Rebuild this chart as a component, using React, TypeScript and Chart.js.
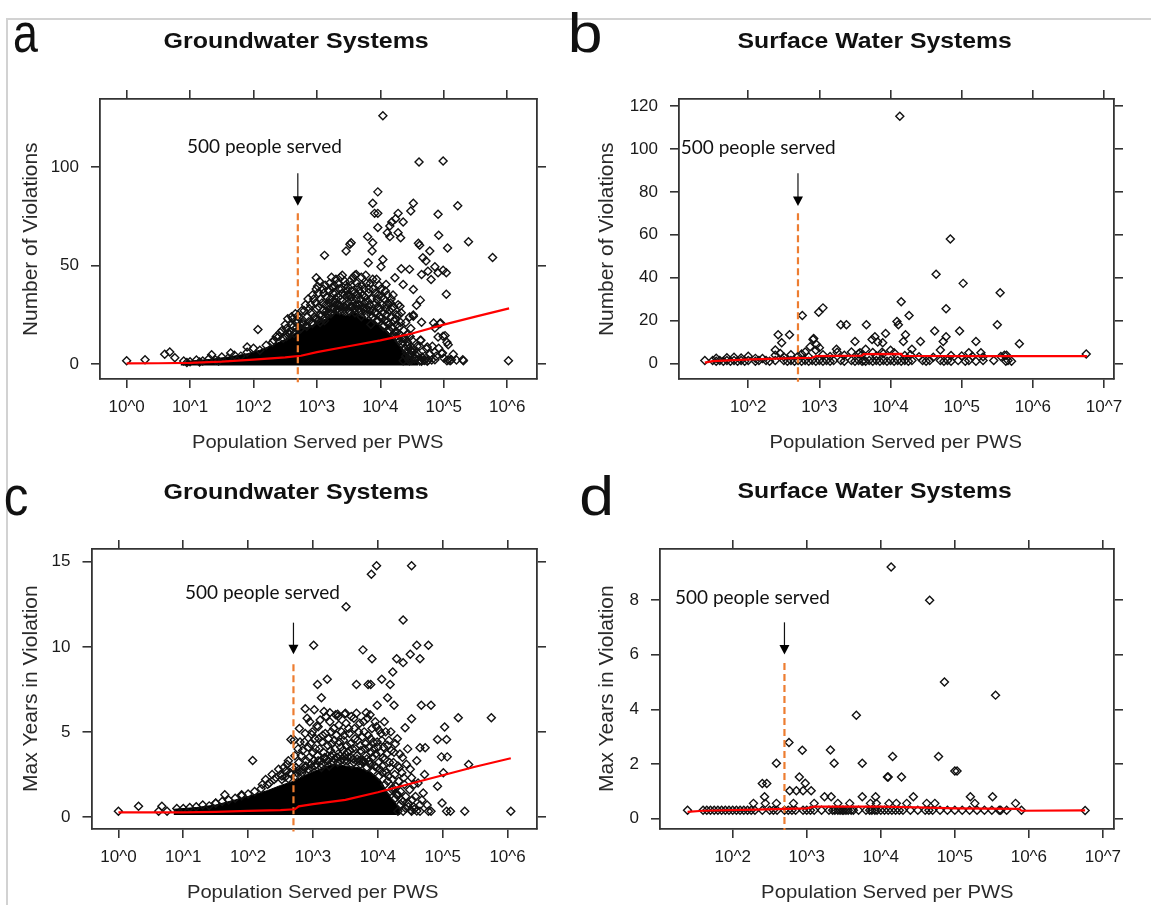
import React, { useEffect, useRef } from 'react';
import { Chart, registerables } from 'chart.js';

Chart.register(...registerables);

type Pt = [number, number];

// x values are log10(population served per PWS)
const THRESHOLD_POP = 500;

const gwXTicks = [0, 1, 2, 3, 4, 5, 6];
const gwXLabels = ['10^0', '10^1', '10^2', '10^3', '10^4', '10^5', '10^6'];
const swXTicks = [2, 3, 4, 5, 6, 7];
const swXLabels = ['10^2', '10^3', '10^4', '10^5', '10^6', '10^7'];

const gwViolYTicks = [0, 50, 100];
const swViolYTicks = [0, 20, 40, 60, 80, 100, 120];
const gwYearsYTicks = [0, 5, 10, 15];
const swYearsYTicks = [0, 2, 4, 6, 8];

// ---------- a: groundwater, number of violations ----------
const gwViolOutliers: Pt[] = [
  [4.04, 125.9], [4.61, 102.5], [4.99, 103], [3.96, 87.3], [3.88, 81.5], [4.52, 81.5], [5.22, 80.3],
  [3.91, 76.4], [3.96, 76.4], [4.28, 76.4], [4.48, 77.6], [4.91, 75.9], [4.24, 73.7], [4.18, 72],
  [4.15, 70], [4.36, 72], [3.96, 69.2], [4.11, 66.6], [4.28, 66.6], [4.15, 64.6], [4.32, 64],
  [3.8, 64.6], [4.92, 65.3], [5.39, 62], [3.54, 61.5], [3.52, 60.7], [3.46, 57.3], [3.12, 55.1],
  [3.88, 61.5], [4.6, 61.2], [4.62, 60.2], [4.78, 57.3], [5.06, 58.8], [3.87, 57.3], [4.67, 53.9],
  [4.72, 52.2], [5.77, 54], [3.81, 51.4], [4.04, 53], [4.01, 49.3], [4.86, 49.3], [4.46, 48],
  [4.33, 48.3], [4.99, 47.6], [5.04, 46.3], [4.75, 47.1], [4.65, 45.4], [4.23, 43.7], [4.36, 40.3],
  [4.09, 40.3], [4.52, 37.8], [4.91, 46.3], [4.8, 42.9], [2.99, 43.7], [3.01, 39.5], [5.04, 35.4],
  [4.17, 33], [4.31, 29.3], [4.52, 24.2], [4.46, 23.9], [4.65, 21.2], [4.95, 20.8], [4.86, 18.3],
  [4.91, 13.7], [5.02, 14.4], [5.07, 9.8], [4.74, 8.6], [4.64, 12], [4.98, 5.6], [5.3, 2.2],
  [5.07, 2.2], [5.12, 2.2], [4.86, 2.2], [4.65, 1.4], [4.74, 1.4], [4.46, 1.7], [4.36, 1.7],
  [2.07, 17.5], [1.9, 8.6], [1.64, 5.6], [1.34, 4.7], [0.6, 4.9], [0.68, 6.1], [0.76, 3.2],
  [0.29, 2.2], [0, 1.6], [2.54, 22.9], [2.69, 24.2], [6.02, 1.7], [5.31, 1.7], [5.05, 1.7],
  [5.1, 1.7], [4.99, 14.1], [4.94, 20.5], [4.84, 20.8], [4.86, 6.1], [4.97, 5.3], [4.73, 7.8],
  [4.68, 2], [4.63, 2], [4.76, 2], [4.81, 2], [4.63, 12], [4.49, 6.9], [4.49, 1.9], [4.63, 32.4],
  [4.57, 29.8], [4.52, 24.8], [4.4, 4], [4.45, 2], [4.5, 6], [4.55, 3], [4.6, 5], [4.62, 9], [4.7, 4],
  [4.78, 5], [4.82, 9], [4.88, 4], [4.92, 8], [5.0, 3], [5.05, 11], [5.15, 5], [5.2, 2],
];
const gwViolCluster: Pt[] = [
  [2.4, 14], [2.45, 17], [2.5, 20], [2.55, 16], [2.6, 24], [2.6, 20], [2.62, 23], [2.66, 25.5],
  [2.7, 22], [2.75, 18], [2.8, 27], [2.85, 24], [2.9, 30], [2.92, 21], [2.95, 33], [3.0, 28],
  [3.02, 36], [3.05, 25], [3.08, 31], [3.1, 38], [3.12, 22], [3.15, 34], [3.18, 29], [3.2, 41],
  [3.22, 26], [3.25, 36], [3.28, 31], [3.3, 43], [3.32, 28], [3.35, 38], [3.38, 33], [3.4, 45],
  [3.42, 29], [3.45, 40], [3.48, 35], [3.5, 31], [3.52, 42], [3.55, 37], [3.58, 28], [3.6, 45],
  [3.62, 33], [3.65, 39], [3.68, 30], [3.7, 44], [3.72, 35], [3.75, 27], [3.78, 41], [3.8, 32],
  [3.82, 38], [3.85, 25], [3.88, 43], [3.9, 30], [3.92, 36], [3.95, 22], [3.98, 40], [4.0, 28],
  [4.02, 34], [4.05, 19], [4.08, 37], [4.1, 25], [4.12, 31], [4.15, 17], [4.18, 28], [4.2, 35],
  [4.22, 22], [4.25, 14], [4.28, 30], [4.3, 19], [4.33, 26], [4.36, 11], [4.4, 21], [4.42, 15],
  [4.45, 8], [4.48, 18], [4.5, 12], [4.55, 5], [4.58, 9], [3.25, 38.6], [3.62, 45.4], [3.4, 36],
  [3.55, 34], [3.35, 30], [3.45, 27], [3.15, 27], [3.05, 21], [3.7, 24], [3.85, 20], [3.0, 23],
  [2.9, 26], [3.95, 33], [4.1, 30], [4.25, 25], [3.6, 26], [3.75, 31], [3.3, 33], [3.2, 31],
  [3.5, 27], [0.9, 1.5], [1.0, 1.2], [1.1, 2.0], [1.2, 1.5], [1.3, 2.8], [1.4, 2.0], [1.5, 3.5],
  [1.6, 3.0], [1.7, 4.5], [1.8, 4.0], [1.9, 6.0], [2.0, 8.0], [2.1, 7.0], [2.2, 9.5], [2.3, 11.0],
  [1.45, 1.5], [1.15, 1.0], [0.95, 0.8],
  [2.76, 27], [2.78, 21], [2.82, 30], [2.84, 19], [2.86, 33], [2.88, 28], [2.93, 35], [2.96, 24],
  [2.98, 31], [2.99, 38], [3.03, 29], [3.04, 42], [3.06, 33], [3.09, 27], [3.11, 36], [3.13, 40],
  [3.14, 30], [3.17, 25], [3.19, 37], [3.21, 33], [3.23, 44], [3.24, 28], [3.26, 32], [3.27, 40],
  [3.29, 36], [3.31, 30], [3.33, 41], [3.34, 34], [3.36, 27], [3.37, 44], [3.39, 38], [3.41, 32],
  [3.43, 35], [3.44, 42], [3.46, 30], [3.47, 37], [3.49, 39], [3.51, 35], [3.53, 29], [3.54, 40],
  [3.56, 32], [3.57, 44], [3.59, 36], [3.61, 30], [3.63, 41], [3.64, 35], [3.66, 28], [3.67, 37],
  [3.69, 33], [3.71, 40], [3.73, 29], [3.74, 38], [3.76, 34], [3.77, 45], [3.79, 28], [3.81, 36],
  [3.83, 30], [3.84, 41], [3.86, 33], [3.87, 27], [3.89, 38], [3.91, 26], [3.93, 31], [3.94, 43],
  [3.96, 29], [3.97, 35], [3.99, 24], [4.01, 38], [4.03, 30], [4.04, 26], [4.06, 33], [4.07, 22],
  [4.09, 28], [4.11, 35], [4.13, 20], [4.14, 27], [4.16, 31], [4.17, 24], [4.19, 18], [4.21, 29],
  [4.23, 16], [4.24, 23], [4.26, 20], [4.27, 13], [4.29, 25], [4.31, 15], [4.32, 21], [4.34, 10],
  [4.37, 17], [4.39, 13], [4.41, 6], [4.43, 11], [4.46, 3.5], [4.47, 14], [4.51, 8], [4.53, 3],
  [2.32, 12], [2.36, 14], [2.42, 16], [2.47, 13], [2.52, 18], [2.57, 15], [2.63, 19], [2.67, 21],
  [2.72, 24], [2.74, 20],
  [2.52, 14], [2.58, 16.5], [2.64, 15.5], [2.68, 18.5], [2.73, 17.5], [2.78, 20], [2.83, 19.5],
  [2.87, 21.5], [2.93, 20.5], [2.97, 23], [3.03, 22.5], [3.07, 24.5], [3.12, 23.5], [3.17, 26],
  [3.22, 25.5], [3.27, 28], [3.32, 27.5], [3.36, 29], [3.41, 27], [3.46, 28.5], [3.51, 26.5],
  [3.55, 29], [3.6, 28], [3.65, 30], [3.69, 26.5], [3.74, 28], [3.78, 25], [3.83, 27], [3.88, 24],
  [3.92, 26], [3.97, 22], [4.02, 23.5], [4.06, 19.5], [4.1, 21], [4.14, 17], [4.18, 18.5],
  [4.22, 14.5], [4.26, 16], [4.3, 11.5], [4.34, 13], [4.38, 8], [4.42, 9.5], [4.46, 5], [4.5, 6.5],
  [4.54, 2.5], [4.58, 4], [4.62, 1.5], [4.66, 3.5], [4.7, 1.8],
];
const gwViolCoreTop: Pt[] = [
  [0.85, 0.5], [1.0, 1.5], [1.3, 2.3], [1.6, 3.5], [1.9, 5.2], [2.1, 7], [2.3, 9.5], [2.5, 12.5],
  [2.65, 15.5], [2.75, 18], [2.9, 19], [3.0, 21], [3.15, 23], [3.3, 26], [3.45, 24.5], [3.6, 26],
  [3.75, 23.5], [3.9, 22], [4.0, 19.5], [4.1, 17], [4.2, 13.5], [4.3, 9.5], [4.4, 6], [4.5, 2.5],
  [4.6, 0.3],
];
const gwViolLoess: Pt[] = [
  [0, 0.3], [0.5, 0.4], [1, 0.6], [1.5, 1.2], [2, 2.2], [2.5, 3.4], [2.75, 4.2], [3, 6], [3.5, 9],
  [4, 12], [4.5, 15.5], [5, 20], [5.5, 24], [6.03, 28.2],
];

// ---------- b: surface water, number of violations ----------
const swViolOutliers: Pt[] = [
  [4.13, 115.2], [4.84, 58.1], [4.64, 41.6], [5.02, 37.4], [5.54, 33], [4.15, 28.8], [4.78, 25.6],
  [2.76, 22.5], [2.99, 24], [3.05, 26], [4.26, 22.5], [3.3, 18.1], [3.38, 18.1], [3.66, 18.1],
  [4.09, 19.7], [4.11, 18.1], [5.5, 18.1], [2.42, 13.5], [2.58, 13.5], [4.62, 15.2], [4.97, 15.2],
  [4.21, 13.5], [4.78, 12.6], [3.78, 12.6], [3.93, 14.1], [5.81, 9.3], [3.5, 10.4], [4.42, 10.4],
  [5.2, 10.4], [4.74, 10.4], [4.18, 10.4], [2.91, 11.3], [2.92, 11.8], [3.82, 10.1], [3.74, 11.3],
  [3.89, 9.8], [3.57, 5.1], [3.88, 5.4], [4.3, 6.7], [5.27, 5.1], [5.1, 5.1], [4.7, 6.4],
  [2.47, 9.8], [2.38, 6.4], [2.96, 9], [2.87, 7.9], [3.24, 6.7], [5.63, 3.9], [6.75, 4.5], [3.59, 3.9],
  [1.55, 2.6], [1.7, 2.8], [1.8, 3.0], [1.9, 2.7], [2.0, 3.5], [2.1, 2.5], [2.2, 2.4], [2.38, 3.9],
  [2.45, 4.8], [2.5, 3.1], [2.6, 4.2], [2.7, 3.5], [2.75, 4.5], [2.8, 5.5], [2.85, 3.2], [2.95, 6.3],
  [3.0, 7.5], [3.05, 4.2], [3.15, 3.4], [3.25, 5.3], [3.35, 4.0], [3.45, 5.5], [3.55, 4.6],
  [3.65, 6.8], [3.75, 5.2], [3.8, 3.6], [3.9, 4.8], [4.0, 6.3], [4.05, 5.1], [4.2, 3.8], [4.28, 4.2],
  [4.4, 3.3], [4.6, 3.0], [4.85, 3.8], [5.0, 3.6], [5.15, 3.5], [5.3, 3.2], [5.55, 3.4], [5.6, 3.9],
];
const swViolBaseline: Pt[] = [
  [1.39, 1.5], [1.5, 1.5], [1.55, 1.2], [1.6, 1.5], [1.65, 1.2], [1.7, 1.5], [1.75, 1.2], [1.8, 1.5],
  [1.85, 1.2], [1.9, 1.5], [1.95, 1.2], [2.0, 1.5], [2.1, 1.2], [2.15, 1.5], [2.25, 1.5], [2.3, 1.2],
  [2.38, 1.5], [2.5, 1.5], [2.55, 1.2], [2.6, 1.5], [2.65, 1.2], [2.7, 1.5], [2.75, 1.2], [2.8, 1.5],
  [2.85, 1.2], [2.9, 1.5], [2.95, 1.2], [3.0, 1.5], [3.05, 1.2], [3.1, 1.5], [3.15, 1.2], [3.2, 1.5],
  [3.3, 1.5], [3.35, 1.2], [3.45, 1.5], [3.5, 1.2], [3.55, 1.5], [3.6, 1.2], [3.62, 1.5], [3.65, 1.2],
  [3.7, 1.5], [3.75, 1.2], [3.8, 1.5], [3.85, 1.2], [3.9, 1.5], [3.95, 1.2], [4.0, 1.5], [4.05, 1.2],
  [4.1, 1.5], [4.15, 1.2], [4.2, 1.5], [4.25, 1.2], [4.3, 1.5], [4.45, 1.5], [4.5, 1.2], [4.55, 1.5],
  [4.7, 1.5], [4.75, 1.2], [4.8, 1.5], [4.85, 1.2], [4.95, 1.5], [5.05, 1.2], [5.1, 1.5], [5.2, 1.2],
  [5.3, 1.5], [5.45, 1.5], [5.62, 1.2], [5.65, 1.5], [5.7, 1.2],
];
const swViolLoess: Pt[] = [
  [1.39, 0.5], [1.5, 1.2], [1.95, 1.9], [2.4, 2.4], [2.9, 2.8], [2.95, 3.5], [3.6, 3.8], [3.62, 4.5],
  [4.15, 4.6], [4.17, 3.6], [5, 3.5], [6.76, 3.5],
];

// ---------- c: groundwater, max years in violation ----------
const gwYearsOutliers: Pt[] = [
  [4.52, 14.76], [3.98, 14.76], [3.9, 14.27], [3.51, 12.35], [4.39, 11.58], [3.01, 10.09], [4.6, 10.09],
  [4.78, 10.09], [4.5, 9.56], [3.77, 9.82], [3.91, 9.3], [4.65, 9.3], [4.29, 9.3], [4.39, 9.07],
  [4.23, 8.52], [4.06, 8.09], [3.89, 7.79], [3.85, 7.79], [3.67, 7.79], [4.19, 7.79], [3.07, 7.79],
  [3.22, 8.09], [3.13, 7.0], [3.99, 6.56], [4.15, 7.0], [4.67, 6.56], [4.82, 6.56], [2.88, 6.36],
  [3.26, 6.12], [3.38, 6.03], [3.49, 6.03], [3.82, 6.12], [4.25, 6.56], [5.24, 5.83], [5.75, 5.83],
  [5.03, 5.28], [4.52, 5.77], [4.42, 5.24], [5.06, 4.55], [4.92, 4.55], [4.65, 4.06], [4.73, 4.06],
  [4.98, 3.53], [5.07, 3.53], [5.4, 3.08], [5.01, 2.59], [4.92, 1.8], [4.99, 0.82], [5.34, 0.33],
  [5.12, 0.33], [5.06, 0.33], [4.82, 0.33], [4.78, 0.33], [4.65, 0.33], [4.52, 0.33], [4.39, 0.33],
  [4.31, 0.33], [2.07, 3.32], [2.66, 4.55], [2.71, 4.52], [1.9, 1.3], [1.64, 1.3], [1.5, 0.82],
  [0, 0.33], [0.31, 0.63], [0.67, 0.63], [0.62, 0.33], [0.75, 0.33], [3.06, 5.34], [2.98, 4.85],
  [6.05, 0.33],
];
const gwYearsCluster: Pt[] = [
  [2.75, 2.6], [2.78, 3.2], [2.8, 4.4], [2.82, 3.6], [2.85, 2.8], [2.88, 4.9], [2.9, 3.3], [2.93, 4.1],
  [2.95, 5.6], [2.98, 2.9], [3.0, 3.8], [3.03, 4.6], [3.05, 3.1], [3.08, 5.3], [3.1, 4.0], [3.13, 2.9],
  [3.15, 4.8], [3.18, 3.5], [3.2, 5.9], [3.23, 4.2], [3.25, 3.0], [3.28, 5.0], [3.3, 3.7], [3.33, 4.5],
  [3.35, 6.0], [3.38, 3.2], [3.4, 5.4], [3.43, 4.1], [3.45, 3.4], [3.48, 4.8], [3.5, 6.1], [3.53, 3.8],
  [3.55, 5.2], [3.58, 4.3], [3.6, 3.1], [3.63, 5.8], [3.65, 4.6], [3.68, 3.6], [3.7, 5.0], [3.73, 4.2],
  [3.75, 3.3], [3.78, 5.6], [3.8, 4.0], [3.83, 3.4], [3.85, 4.8], [3.88, 6.0], [3.9, 3.8], [3.93, 4.4],
  [3.95, 3.0], [3.98, 5.3], [4.0, 4.1], [4.03, 2.8], [4.05, 4.9], [4.08, 3.5], [4.1, 5.6], [4.13, 2.6],
  [4.15, 4.2], [4.18, 3.2], [4.2, 5.0], [4.23, 2.2], [4.25, 3.8], [4.28, 1.8], [4.3, 4.6], [4.33, 2.9],
  [4.35, 1.5], [4.38, 3.5], [4.4, 2.3], [4.43, 1.2], [4.46, 4.0], [4.5, 2.8], [4.53, 1.0], [4.56, 1.9],
  [4.6, 3.3], [4.65, 0.7], [4.7, 1.4], [2.3, 1.9], [2.4, 2.2], [2.5, 2.5], [2.55, 2.9], [2.6, 3.1],
  [2.65, 2.6], [0.9, 0.5], [1.0, 0.5], [1.1, 0.55], [1.2, 0.6], [1.3, 0.7], [1.4, 0.65], [1.5, 0.8],
  [1.6, 0.9], [1.7, 1.0], [1.8, 1.1], [1.9, 1.25], [2.0, 1.35], [2.1, 1.5], [2.2, 1.65],
  [2.72, 3.6], [2.74, 2.9], [2.77, 4.0], [2.79, 5.2], [2.81, 2.7], [2.84, 3.9], [2.87, 4.4], [2.89, 3.0],
  [2.91, 5.8], [2.94, 3.5], [2.96, 4.3], [2.99, 5.0], [3.01, 3.3], [3.02, 6.3], [3.04, 4.0], [3.07, 3.6],
  [3.09, 4.6], [3.11, 5.7], [3.12, 3.3], [3.14, 4.4], [3.16, 3.8], [3.17, 6.2], [3.19, 4.9], [3.21, 3.4],
  [3.24, 4.6], [3.26, 5.6], [3.27, 3.9], [3.29, 4.3], [3.31, 3.2], [3.32, 5.2], [3.34, 4.0], [3.36, 4.8],
  [3.37, 3.5], [3.39, 5.9], [3.41, 4.4], [3.42, 3.6], [3.44, 5.0], [3.46, 3.9], [3.47, 4.5], [3.49, 3.3],
  [3.51, 5.5], [3.52, 4.2], [3.54, 3.5], [3.56, 4.9], [3.57, 3.9], [3.59, 5.9], [3.61, 4.0], [3.62, 3.4],
  [3.64, 5.2], [3.66, 4.0], [3.67, 6.1], [3.69, 4.5], [3.71, 3.3], [3.72, 5.5], [3.74, 3.9], [3.76, 4.7],
  [3.77, 3.2], [3.79, 5.0], [3.81, 4.3], [3.82, 3.6], [3.84, 5.8], [3.86, 4.1], [3.87, 3.3], [3.89, 4.6],
  [3.91, 5.2], [3.92, 3.5], [3.94, 4.0], [3.96, 5.6], [3.97, 3.7], [3.99, 4.4], [4.01, 3.2], [4.02, 5.1],
  [4.04, 3.8], [4.06, 4.5], [4.07, 3.0], [4.09, 4.1], [4.11, 3.4], [4.12, 5.0], [4.14, 3.7], [4.16, 2.4],
  [4.17, 4.5], [4.19, 2.9], [4.21, 3.9], [4.22, 1.6], [4.24, 3.2], [4.26, 2.5], [4.27, 4.3], [4.29, 1.3],
  [4.31, 3.0], [4.32, 2.1], [4.34, 3.7], [4.36, 1.0], [4.37, 2.6], [4.41, 1.9], [4.44, 3.1], [4.47, 0.8],
  [4.49, 1.6], [4.52, 2.3], [4.55, 0.6], [4.58, 1.2], [4.62, 2.0], [4.68, 1.0], [4.72, 2.5], [4.76, 0.7],
  [2.22, 1.9], [2.27, 2.2], [2.33, 2.0], [2.37, 2.5], [2.43, 2.3], [2.47, 2.8], [2.52, 2.4], [2.58, 2.7],
  [2.62, 3.3], [2.68, 2.9],
  [2.52, 2.2], [2.57, 2.35], [2.62, 2.25], [2.67, 2.5], [2.73, 2.4], [2.78, 2.75], [2.83, 2.6],
  [2.88, 2.9], [2.93, 2.8], [2.97, 3.1], [3.03, 3.0], [3.08, 3.3], [3.13, 3.1], [3.18, 3.45],
  [3.23, 3.3], [3.28, 3.55], [3.33, 3.4], [3.38, 3.5], [3.43, 3.3], [3.48, 3.55], [3.53, 3.3],
  [3.58, 3.5], [3.63, 3.2], [3.68, 3.4], [3.73, 3.1], [3.78, 3.3], [3.83, 2.9], [3.88, 3.1],
  [3.93, 2.7], [3.98, 2.9], [4.02, 2.4], [4.07, 2.6], [4.11, 1.9], [4.15, 2.1], [4.19, 1.5],
  [4.23, 1.7], [4.27, 1.1], [4.31, 1.3], [4.35, 0.75], [4.39, 0.9], [4.43, 0.5], [4.47, 0.6],
  [4.51, 0.4], [4.56, 0.45], [4.6, 0.35],
];
const gwYearsCoreTop: Pt[] = [
  [0.85, 0.45], [1.2, 0.55], [1.5, 0.7], [1.8, 1.0], [2.0, 1.2], [2.3, 1.55], [2.5, 1.85], [2.7, 2.1],
  [2.9, 2.5], [3.1, 2.8], [3.3, 3.1], [3.5, 3.0], [3.7, 2.9], [3.9, 2.6], [4.05, 2.1], [4.15, 1.4],
  [4.25, 0.9], [4.35, 0.4],
];
const gwYearsLoess: Pt[] = [
  [0, 0.27], [1, 0.27], [1.5, 0.3], [2, 0.35], [2.5, 0.4], [2.72, 0.45], [2.78, 0.62], [3, 0.75],
  [3.5, 1.0], [4, 1.45], [4.5, 1.95], [5, 2.45], [5.5, 2.95], [6.05, 3.45],
];

// ---------- d: surface water, max years in violation ----------
const swYearsOutliers: Pt[] = [
  [4.14, 9.22], [4.66, 8.0], [4.86, 5.0], [5.55, 4.52], [3.67, 3.78], [2.76, 2.78], [2.94, 2.5],
  [3.32, 2.51], [3.37, 2.02], [3.75, 2.02], [4.16, 2.27], [4.78, 2.27], [2.59, 2.02], [5.0, 1.74],
  [5.03, 1.74], [4.09, 1.52], [4.1, 1.52], [4.28, 1.52], [2.9, 1.52], [2.98, 1.29], [2.4, 1.28],
  [2.46, 1.28], [2.77, 1.01], [2.86, 1.01], [2.95, 1.01], [3.06, 1.01], [2.43, 0.79], [3.24, 0.79],
  [3.33, 0.79], [3.75, 0.79], [3.93, 0.79], [4.44, 0.79], [5.21, 0.79], [5.51, 0.79], [2.28, 0.55],
  [2.44, 0.55], [2.59, 0.55], [2.82, 0.55], [3.1, 0.55], [3.42, 0.55], [3.58, 0.55], [3.86, 0.55],
  [3.94, 0.55], [4.11, 0.55], [4.21, 0.55], [4.35, 0.55], [4.62, 0.55], [4.73, 0.55], [5.27, 0.55],
  [5.82, 0.55], [6.76, 0.29],
];
const swYearsBaseline: Pt[] = [
  [1.39, 0.3], [1.6, 0.3], [1.65, 0.3], [1.7, 0.3], [1.75, 0.3], [1.8, 0.3], [1.85, 0.3], [1.9, 0.3],
  [1.95, 0.3], [2.0, 0.3], [2.05, 0.3], [2.1, 0.3], [2.15, 0.3], [2.2, 0.3], [2.25, 0.3], [2.3, 0.3],
  [2.4, 0.3], [2.5, 0.3], [2.55, 0.3], [2.6, 0.3], [2.7, 0.3], [2.75, 0.3], [2.8, 0.3], [2.85, 0.3],
  [2.95, 0.3], [3.0, 0.3], [3.05, 0.3], [3.1, 0.3], [3.2, 0.3], [3.3, 0.3], [3.35, 0.3], [3.38, 0.3],
  [3.42, 0.3], [3.45, 0.3], [3.48, 0.3], [3.5, 0.3], [3.53, 0.3], [3.56, 0.3], [3.6, 0.3], [3.63, 0.3],
  [3.7, 0.3], [3.8, 0.3], [3.85, 0.3], [3.88, 0.3], [3.92, 0.3], [3.95, 0.3], [4.0, 0.3], [4.05, 0.3],
  [4.1, 0.3], [4.15, 0.3], [4.2, 0.3], [4.25, 0.3], [4.3, 0.3], [4.4, 0.3], [4.5, 0.3], [4.6, 0.3],
  [4.65, 0.3], [4.7, 0.3], [4.8, 0.3], [4.9, 0.3], [5.0, 0.3], [5.1, 0.3], [5.2, 0.3], [5.3, 0.3],
  [5.4, 0.3], [5.5, 0.3], [5.6, 0.3], [5.62, 0.3], [5.7, 0.3], [5.9, 0.3],
];
const swYearsLoess: Pt[] = [
  [1.39, 0.24], [1.6, 0.28], [2.3, 0.32], [3.0, 0.37], [3.1, 0.43], [4.0, 0.43], [4.5, 0.4],
  [5.0, 0.37], [5.87, 0.35], [5.9, 0.28], [6.76, 0.29],
];

// ---------- layout / styling ----------
interface PanelSpec {
  id: string;
  area: { left: number; right: number; top: number; bottom: number };
  xMin: number; xMax: number; yMin: number; yMax: number;
  xTicks: number[]; xLabels: string[]; yTicks: number[];
  points: Pt[]; core?: Pt[]; coreBase?: number; loess: Pt[];
  dashTop: number; dashBottom: number;
  decor: any;
}

const TICK_FONT = { family: '"Liberation Sans", Arial, sans-serif', size: 17 };
const AXIS_COLOR = '#333333';

const panels: PanelSpec[] = [
  {
    id: 'a', area: { left: 100, right: 537, top: 99, bottom: 379 },
    xMin: -0.42, xMax: 6.47, yMin: -7.6, yMax: 134.4,
    xTicks: gwXTicks, xLabels: gwXLabels, yTicks: gwViolYTicks,
    points: [...gwViolOutliers, ...gwViolCluster], core: gwViolCoreTop, coreBase: -0.8, loess: gwViolLoess,
    dashTop: 76.5, dashBottom: -9.2,
    decor: {
      letter: 'a', letterX: 14.7, letterY: 51.5, letterW: 24,
      title: 'Groundwater Systems', titleX: 296, titleY: 47.5, titleW: 265,
      xTitle: 'Population Served per PWS', xTitleX: 318, xTitleY: 448.3, xTitleW: 250,
      yTitle: 'Number of Violations', yTitleX: 36.5, yTitleY: 239, yTitleW: 192,
      noteX: 0.967, noteY: 107.1, noteW: 153, arrowTop: 96.8, arrowTip: 80.2,
    },
  },
  {
    id: 'b', area: { left: 679, right: 1114, top: 99, bottom: 379 },
    xMin: 1.027, xMax: 7.14, yMin: -7.1, yMax: 123.2,
    xTicks: swXTicks, xLabels: swXLabels, yTicks: swViolYTicks,
    points: [...swViolOutliers, ...swViolBaseline], loess: swViolLoess,
    dashTop: 70, dashBottom: -8.4,
    decor: {
      letter: 'b', letterX: 571, letterY: 51.5, letterW: 29,
      title: 'Surface Water Systems', titleX: 874.5, titleY: 47.5, titleW: 274,
      xTitle: 'Population Served per PWS', xTitleX: 896, xTitleY: 448.3, xTitleW: 251,
      yTitle: 'Number of Violations', yTitleX: 612.5, yTitleY: 239, yTitleW: 192,
      noteX: 1.065, noteY: 97.4, noteW: 153, arrowTop: 88.6, arrowTip: 73.4,
    },
  },
  {
    id: 'c', area: { left: 91.5, right: 537, top: 549, bottom: 829 },
    xMin: -0.415, xMax: 6.454, yMin: -0.71, yMax: 15.75,
    xTicks: gwXTicks, xLabels: gwXLabels, yTicks: gwYearsYTicks,
    points: [...gwYearsOutliers, ...gwYearsCluster], core: gwYearsCoreTop, coreBase: 0.12, loess: gwYearsLoess,
    dashTop: 8.97, dashBottom: -0.86,
    decor: {
      letter: 'c', letterX: 5.5, letterY: 514.5, letterW: 22,
      title: 'Groundwater Systems', titleX: 296, titleY: 498.8, titleW: 265,
      xTitle: 'Population Served per PWS', xTitleX: 313, xTitleY: 898, xTitleW: 250,
      yTitle: 'Max Years in Violation', yTitleX: 36.5, yTitleY: 688.5, yTitleW: 205,
      noteX: 1.042, noteY: 12.84, noteW: 153, arrowTop: 11.42, arrowTip: 9.56,
    },
  },
  {
    id: 'd', area: { left: 660, right: 1114, top: 549, bottom: 829 },
    xMin: 1.018, xMax: 7.15, yMin: -0.39, yMax: 9.88,
    xTicks: swXTicks, xLabels: swXLabels, yTicks: swYearsYTicks,
    points: [...swYearsOutliers, ...swYearsBaseline], loess: swYearsLoess,
    dashTop: 5.7, dashBottom: -0.43,
    decor: {
      letter: 'd', letterX: 581.5, letterY: 514.5, letterW: 29,
      title: 'Surface Water Systems', titleX: 874.5, titleY: 498.3, titleW: 274,
      xTitle: 'Population Served per PWS', xTitleX: 887.7, xTitleY: 898, xTitleW: 251,
      yTitle: 'Max Years in Violation', yTitleX: 612.5, yTitleY: 688.5, yTitleW: 205,
      noteX: 1.233, noteY: 7.88, noteW: 153, arrowTop: 7.19, arrowTip: 6.01,
    },
  },
];

const W = 1151;
const H = 905;
const LEFT_AXIS_W = 50;
const RIGHT_AXIS_W = 10;
const BOTTOM_AXIS_H = 40;
const TOP_AXIS_H = 10;

function drawFit(
  ctx: CanvasRenderingContext2D, text: string, x: number, y: number, font: string,
  targetW: number, anchor: 'left' | 'center', rotate = false,
) {
  ctx.save();
  ctx.font = font;
  ctx.textAlign = 'left';
  ctx.textBaseline = 'alphabetic';
  const m = ctx.measureText(text);
  const inkW = m.actualBoundingBoxLeft + m.actualBoundingBoxRight;
  const s = inkW > 0 ? targetW / inkW : 1;
  ctx.translate(x, y);
  if (rotate) ctx.rotate(-Math.PI / 2);
  ctx.scale(s, 1);
  const ox = anchor === 'left'
    ? m.actualBoundingBoxLeft
    : (m.actualBoundingBoxLeft - m.actualBoundingBoxRight) / 2;
  ctx.fillText(text, ox, 0);
  ctx.restore();
}

const decorPlugin = {
  id: 'decor',
  afterDatasetsDraw(chart: any, _args: any, o: any) {
    const ctx: CanvasRenderingContext2D = chart.ctx;
    const xs = chart.scales.x;
    const ys = chart.scales.y;
    ctx.save();
    ctx.fillStyle = '#111';
    drawFit(ctx, o.letter, o.letterX, o.letterY, '56px "Liberation Sans", Arial, sans-serif', o.letterW, 'left');
    drawFit(ctx, o.title, o.titleX, o.titleY, 'bold 22px "Liberation Sans", Arial, sans-serif', o.titleW, 'center');
    ctx.fillStyle = '#2a2a2a';
    drawFit(ctx, o.xTitle, o.xTitleX, o.xTitleY, '18.6px "Liberation Sans", Arial, sans-serif', o.xTitleW, 'center');
    drawFit(ctx, o.yTitle, o.yTitleX, o.yTitleY, '21px "Liberation Sans", Arial, sans-serif', o.yTitleW, 'center', true);
    ctx.fillStyle = '#111';
    drawFit(ctx, '500 people served', xs.getPixelForValue(o.noteX), ys.getPixelForValue(o.noteY),
      '19.5px Lato, "Open Sans", sans-serif', o.noteW, 'left');
    const ax = xs.getPixelForValue(Math.log10(THRESHOLD_POP));
    const yTop = ys.getPixelForValue(o.arrowTop);
    const yTip = ys.getPixelForValue(o.arrowTip);
    ctx.strokeStyle = '#111';
    ctx.lineWidth = 1.2;
    ctx.beginPath();
    ctx.moveTo(ax, yTop);
    ctx.lineTo(ax, yTip - 8);
    ctx.stroke();
    ctx.fillStyle = '#000';
    ctx.beginPath();
    ctx.moveTo(ax - 5, yTip - 9.5);
    ctx.lineTo(ax + 5, yTip - 9.5);
    ctx.lineTo(ax, yTip);
    ctx.closePath();
    ctx.fill();
    ctx.restore();
  },
};

function toXY(pts: Pt[]) {
  return pts.map(([x, y]) => ({ x, y }));
}

function axisCommon(min: number, max: number, ticks: number[]) {
  return {
    type: 'linear' as const,
    min, max,
    afterBuildTicks: (s: any) => { s.ticks = ticks.map((v) => ({ value: v })); },
    grid: { display: true, drawOnChartArea: false, drawTicks: true, tickLength: 9, color: AXIS_COLOR, lineWidth: 1.6 },
    border: { display: true, color: AXIS_COLOR, width: 1.8 },
  };
}

function makeConfig(p: PanelSpec): any {
  const a = p.area;
  const logT = Math.log10(THRESHOLD_POP);
  const datasets: any[] = [
    {
      type: 'line', label: 'Smoothed trend', data: toXY(p.loess), borderColor: '#ff0000', borderWidth: 2.2,
      pointRadius: 0, tension: 0, fill: false, order: 0,
    },
    {
      type: 'line', label: '500 people served', data: [{ x: logT, y: p.dashTop }, { x: logT, y: p.dashBottom }],
      borderColor: '#ED7D31', borderWidth: 2.2, borderDash: [7, 4], pointRadius: 0, fill: false, clip: false, order: 1,
    },
    {
      type: 'scatter', label: 'PWS', data: toXY(p.points), pointStyle: 'rectRot', pointRadius: 4,
      borderColor: '#111', borderWidth: 1.4, backgroundColor: 'rgba(0,0,0,0)', order: 2,
    },
  ];
  if (p.core) {
    datasets.push({
      type: 'line', label: 'dense cloud', data: toXY(p.core), fill: { value: p.coreBase },
      backgroundColor: '#000', borderColor: '#000', borderWidth: 1, pointRadius: 0, tension: 0, order: 3,
    });
  }
  return {
    type: 'scatter',
    data: { datasets },
    options: {
      responsive: false,
      animation: false,
      devicePixelRatio: 1,
      events: [],
      layout: {
        padding: {
          left: a.left - LEFT_AXIS_W,
          right: W - a.right - RIGHT_AXIS_W,
          top: a.top - TOP_AXIS_H,
          bottom: H - a.bottom - BOTTOM_AXIS_H,
        },
      },
      plugins: {
        legend: { display: false },
        tooltip: { enabled: false },
        decor: p.decor,
      },
      scales: {
        x: {
          ...axisCommon(p.xMin, p.xMax, p.xTicks),
          position: 'bottom',
          afterFit: (s: any) => { s.height = BOTTOM_AXIS_H; },
          ticks: {
            autoSkip: false, maxRotation: 0, minRotation: 0, padding: 9, color: '#1a1a1a', font: TICK_FONT,
            callback: (_v: any, i: number) => p.xLabels[i],
          },
        },
        x2: {
          ...axisCommon(p.xMin, p.xMax, p.xTicks),
          position: 'top',
          afterFit: (s: any) => { s.height = TOP_AXIS_H; },
          ticks: { display: false },
        },
        y: {
          ...axisCommon(p.yMin, p.yMax, p.yTicks),
          position: 'left',
          afterFit: (s: any) => { s.width = LEFT_AXIS_W; },
          ticks: {
            autoSkip: false, padding: 12, color: '#1a1a1a', font: TICK_FONT,
            callback: (v: any) => String(v),
          },
        },
        y2: {
          ...axisCommon(p.yMin, p.yMax, p.yTicks),
          position: 'right',
          afterFit: (s: any) => { s.width = RIGHT_AXIS_W; },
          ticks: { display: false },
        },
      },
    },
    plugins: [decorPlugin],
  };
}

function Panel({ spec }: { spec: PanelSpec }) {
  const ref = useRef<HTMLCanvasElement>(null);
  useEffect(() => {
    if (!ref.current) return;
    const chart = new Chart(ref.current, makeConfig(spec));
    return () => chart.destroy();
  }, [spec]);
  return (
    <canvas
      ref={ref}
      width={W}
      height={H}
      style={{ position: 'absolute', left: 0, top: 0, width: W, height: H }}
    />
  );
}

export default function App() {
  return (
    <div style={{ position: 'absolute', left: 0, top: 0, width: W, height: H, background: '#fff', overflow: 'hidden' }}>
      <div
        style={{
          position: 'absolute', left: 6, top: 18, width: W + 20, height: H + 20,
          borderTop: '2px solid #d2d2d2', borderLeft: '2px solid #d2d2d2',
        }}
      />
      {panels.map((p) => (
        <Panel key={p.id} spec={p} />
      ))}
    </div>
  );
}
